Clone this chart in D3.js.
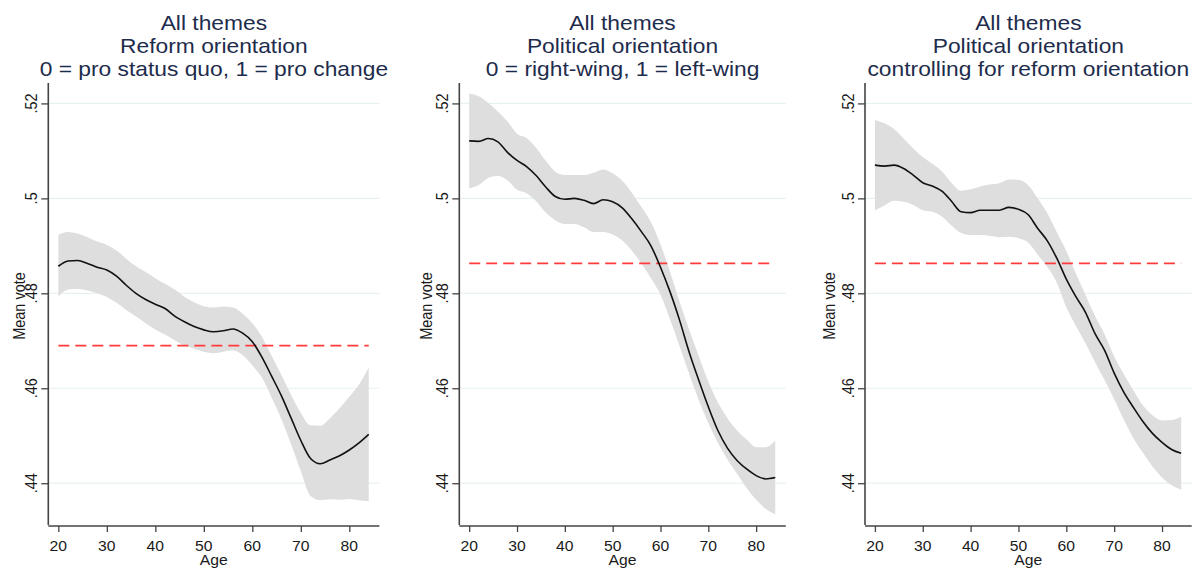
<!DOCTYPE html>
<html><head><meta charset="utf-8">
<script src="https://cdn.jsdelivr.net/npm/d3@7/dist/d3.min.js"></script>
<style>body{margin:0;background:#fff}svg{display:block;font-family:"Liberation Sans",Arial,sans-serif}</style>
</head><body><svg id="c" width="1195" height="570"></svg>
<script>
// ---------- data ----------
const ages = [20,22,24,26,28,30,32,34,36,38,40,42,44,46,48,50,52,54,56,58,60,62,64,66,68,70,72,74,76,78,80,82,84];

const p1Mean  = [.4857,.4868,.4869,.4863,.4855,.4849,.4836,.4817,.4800,.4787,.4777,.4768,.4752,.4740,.4730,.4723,.4719,.4721,.4725,.4716,.4698,.4665,.4625,.4584,.4537,.4490,.4452,.4441,.4449,.4458,.4470,.4485,.4503];
const p1Upper = [.4923,.4929,.4926,.4918,.4909,.4902,.4890,.4873,.4857,.4845,.4832,.4820,.4808,.4793,.4781,.4773,.4770,.4772,.4770,.4757,.4737,.4708,.4668,.4628,.4586,.4548,.4522,.4521,.4537,.4558,.4582,.4608,.4644];
const p1Lower = [.4793,.4808,.4809,.4806,.4800,.4792,.4780,.4765,.4751,.4737,.4724,.4713,.4701,.4690,.4683,.4677,.4674,.4677,.4680,.4670,.4648,.4622,.4580,.4535,.4482,.4425,.4373,.4364,.4366,.4365,.4367,.4364,.4362];

const p2Mean  = [.5121,.5120,.5126,.5119,.5097,.5080,.5067,.5048,.5024,.5004,.4998,.5000,.4996,.4989,.4997,.4993,.4980,.4957,.4930,.4900,.4855,.4803,.4743,.4676,.4617,.4561,.4511,.4474,.4448,.4430,.4416,.4409,.4412];
const p2Upper = [.5221,.5215,.5201,.5183,.5162,.5136,.5127,.5106,.5079,.5056,.5049,.5049,.5049,.5054,.5061,.5053,.5037,.5012,.4982,.4950,.4903,.4845,.4782,.4723,.4668,.4614,.4570,.4537,.4511,.4492,.4476,.4476,.4490];
const p2Lower = [.5021,.5028,.5043,.5047,.5038,.5018,.5011,.4994,.4970,.4954,.4946,.4946,.4939,.4929,.4929,.4924,.4911,.4890,.4863,.4832,.4797,.4745,.4688,.4630,.4575,.4527,.4485,.4450,.4420,.4390,.4365,.4346,.4334];

const p3Mean  = [.5070,.5068,.5070,.5063,.5049,.5033,.5026,.5015,.4994,.4972,.4970,.4975,.4975,.4975,.4981,.4977,.4966,.4937,.4911,.4874,.4830,.4793,.4760,.4715,.4680,.4632,.4592,.4560,.4530,.4505,.4486,.4471,.4463];
const p3Upper = [.5165,.5158,.5146,.5126,.5105,.5087,.5073,.5057,.5033,.5016,.5019,.5025,.5029,.5032,.5040,.5039,.5028,.5000,.4969,.4929,.4889,.4842,.4797,.4752,.4714,.4667,.4630,.4596,.4564,.4543,.4532,.4533,.4540];
const p3Lower = [.4975,.4985,.4995,.4993,.4986,.4975,.4972,.4962,.4943,.4927,.4923,.4923,.4921,.4918,.4919,.4916,.4907,.4882,.4856,.4823,.4771,.4731,.4695,.4655,.4617,.4577,.4534,.4495,.4464,.4435,.4412,.4396,.4386];

const refValues = [0.469, 0.4863, 0.4863];
const titles = [
  ["All themes","Reform orientation","0 = pro status quo, 1 = pro change"],
  ["All themes","Political orientation","0 = right-wing, 1 = left-wing"],
  ["All themes","Political orientation","controlling for reform orientation"]
];
const yTicks = [0.44,0.46,0.48,0.50,0.52];
const yTickLabels = [".44",".46",".48",".5",".52"];
const xTicks = [20,30,40,50,60,70,80];
const xLabel = "Age", yLabel = "Mean vote";

// ---------- layout ----------
const panels = [
  {left:48.3,  right:379.4, ylab:23, mean:p1Mean, up:p1Upper, lo:p1Lower},
  {left:459.3, right:785.8, ylab:27, mean:p2Mean, up:p2Upper, lo:p2Lower},
  {left:865,   right:1191.7, ylab:30, mean:p3Mean, up:p3Upper, lo:p3Lower}
];
const plotTop = 83, plotBottom = 525, SX = 1.14;
const svg = d3.select("#c");
const y = d3.scaleLinear().domain([0.4312, 0.5243]).range([plotBottom, plotTop]);

panels.forEach((p, i) => {
  const x = d3.scaleLinear().domain([17.93, 86.2]).range([p.left, p.right]);
  const g = svg.append("g");

  // gridlines
  g.selectAll(".grid").data(yTicks).enter().append("line")
    .attr("x1", p.left).attr("x2", p.right)
    .attr("y1", d => y(d)).attr("y2", d => y(d))
    .attr("stroke", "#e8f1f2").attr("stroke-width", 1.2);

  // confidence band
  const area = d3.area().x((d, k) => x(ages[k])).y0((d, k) => y(p.lo[k])).y1((d, k) => y(p.up[k])).curve(d3.curveMonotoneX);
  g.append("path").datum(ages).attr("d", area).attr("fill", "#dedede");

  // reference line
  g.append("line").attr("x1", x(20)).attr("x2", x(84))
    .attr("y1", y(refValues[i])).attr("y2", y(refValues[i]))
    .attr("stroke", "#ff3b3b").attr("stroke-width", 1.7).attr("stroke-dasharray", "11,6");

  // mean line
  const line = d3.line().x((d, k) => x(ages[k])).y((d, k) => y(p.mean[k])).curve(d3.curveMonotoneX);
  g.append("path").datum(ages).attr("d", line).attr("fill", "none").attr("stroke", "#111").attr("stroke-width", 1.6);

  // y axis
  const ya = g.append("g").attr("transform", `translate(${p.left},0)`)
    .call(d3.axisLeft(y).tickValues(yTicks).tickSize(7).tickFormat(""));
  ya.select(".domain").attr("d", `M0,${plotTop}V${plotBottom}`).attr("stroke", "#444").attr("stroke-width", 1.6);
  ya.selectAll(".tick line").attr("stroke", "#444").attr("stroke-width", 1.3);
  g.selectAll(".ylab").data(yTicks).enter().append("text")
    .attr("transform", (d) => `translate(${p.left - 11},${y(d)}) scale(${SX},1) rotate(-90)`)
    .attr("text-anchor", "middle").attr("font-size", 14.5).attr("fill", "#1a1a1a")
    .text((d, k) => yTickLabels[k]);
  g.append("text")
    .attr("transform", `translate(${p.left - p.ylab},${(plotTop + plotBottom) / 2 + 2}) scale(${SX},1) rotate(-90)`)
    .attr("text-anchor", "middle").attr("font-size", 14.5).attr("fill", "#1a1a1a").text(yLabel);

  // x axis
  const xa = g.append("g").attr("transform", `translate(0,${plotBottom + 1})`)
    .call(d3.axisBottom(x).tickValues(xTicks).tickSize(6).tickFormat(""));
  xa.select(".domain").attr("d", `M${p.left},0H${p.right}`).attr("stroke", "#444").attr("stroke-width", 1.6);
  xa.selectAll(".tick line").attr("stroke", "#444").attr("stroke-width", 1.3);
  g.selectAll(".xlab").data(xTicks).enter().append("text")
    .attr("transform", d => `translate(${x(d)},550.5) scale(${SX},1)`)
    .attr("text-anchor", "middle").attr("font-size", 13.8).attr("fill", "#1a1a1a").text(d => d);
  g.append("text")
    .attr("transform", `translate(${(p.left + p.right) / 2},565) scale(${SX},1)`)
    .attr("text-anchor", "middle").attr("font-size", 13.8).attr("fill", "#1a1a1a").text(xLabel);

  // titles
  titles[i].forEach((t, k) => {
    g.append("text")
      .attr("transform", `translate(${(p.left + p.right) / 2},${30 + k * 23}) scale(${SX},1)`)
      .attr("text-anchor", "middle").attr("font-size", 20).attr("fill", "#1e2c4c").text(t);
  });
});
</script></body></html>
